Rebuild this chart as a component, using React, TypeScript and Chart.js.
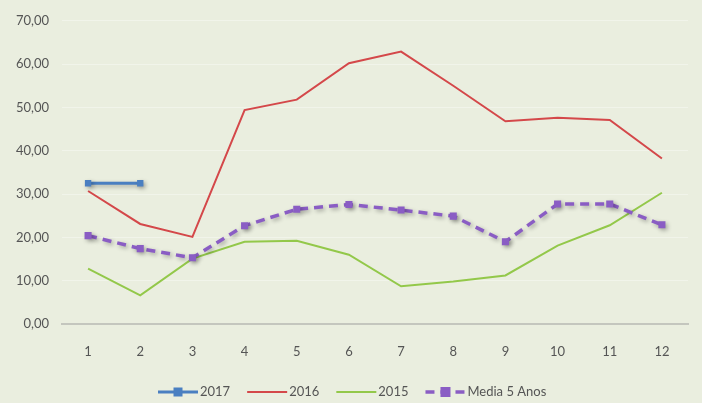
import React, { useEffect, useRef } from "react";
import { Chart, registerables } from "chart.js";

Chart.register(...registerables);

const categories = ["1", "2", "3", "4", "5", "6", "7", "8", "9", "10", "11", "12"];
const series2017 = [32.5, 32.5, null, null, null, null, null, null, null, null, null, null];
const series2016 = [30.7, 23.1, 20.1, 49.4, 51.8, 60.2, 62.9, 55.0, 46.8, 47.6, 47.1, 38.2];
const series2015 = [12.8, 6.6, 15.1, 19.0, 19.2, 16.0, 8.7, 9.8, 11.2, 18.1, 22.8, 30.3];
const seriesMedia = [20.4, 17.4, 15.3, 22.7, 26.5, 27.6, 26.3, 24.9, 19.0, 27.7, 27.7, 22.9];
const yTicks = [0, 10, 20, 30, 40, 50, 60, 70];

const BG = "#EAEEDF";
const FONT = "Lato, 'Open Sans', sans-serif";
const TEXT = "#555555";

const shadowSets = new Set(["2017", "Media 5 Anos"]);

const bgPlugin = {
  id: "bg",
  beforeDraw(chart: any) {
    const ctx = chart.ctx;
    ctx.save();
    ctx.fillStyle = BG;
    ctx.fillRect(0, 0, chart.width, chart.height);
    ctx.restore();
  },
  beforeDatasetDraw(chart: any, args: any) {
    const ds = chart.data.datasets[args.index];
    const ctx = chart.ctx;
    ctx.save();
    if (shadowSets.has(ds.label)) {
      ctx.shadowColor = "rgba(0,0,0,0.3)";
      ctx.shadowBlur = 4;
      ctx.shadowOffsetX = 2;
      ctx.shadowOffsetY = 2;
    }
  },
  afterDatasetDraw(chart: any) {
    chart.ctx.restore();
  },
};

const legendPlugin = {
  id: "customLegend",
  afterDraw(chart: any) {
    const ctx = chart.ctx;
    ctx.save();
    ctx.font = `13px ${FONT}`;
    ctx.textBaseline = "middle";
    ctx.textAlign = "left";
    const y = 392;
    let x = 158;
    const items = chart.data.datasets;
    for (const ds of items) {
      const w = 40;
      ctx.strokeStyle = ds.borderColor;
      ctx.lineWidth = ds.borderWidth;
      ctx.setLineDash(ds.borderDash || []);
      ctx.beginPath();
      ctx.moveTo(x, y);
      ctx.lineTo(x + w, y);
      ctx.stroke();
      ctx.setLineDash([]);
      if (ds.pointRadius > 0) {
        const r = ds.pointRadius;
        ctx.fillStyle = ds.backgroundColor;
        ctx.fillRect(x + w / 2 - r, y - r, r * 2, r * 2);
      }
      ctx.fillStyle = TEXT;
      ctx.fillText(ds.label, x + w + 2, y);
      x += w + 2 + ctx.measureText(ds.label).width + 17;
    }
    ctx.restore();
  },
};

export default function App() {
  const ref = useRef<HTMLCanvasElement | null>(null);
  useEffect(() => {
    document.body.style.margin = "0";
    if (!ref.current) return;
    const chart = new Chart(ref.current, {
      type: "line",
      data: {
        labels: categories,
        datasets: [
          {
            label: "2017",
            data: series2017,
            borderColor: "#4A7FC1",
            backgroundColor: "#4A7FC1",
            borderWidth: 3,
            pointStyle: "rect",
            pointRadius: 4.5,
            pointHoverRadius: 4.5,
            pointBorderWidth: 0,
            tension: 0,
            order: 0,
          },
          {
            label: "2016",
            data: series2016,
            borderColor: "#D4484A",
            backgroundColor: "#D4484A",
            borderWidth: 2,
            pointRadius: 0,
            tension: 0,
            order: 2,
          },
          {
            label: "2015",
            data: series2015,
            borderColor: "#93C84A",
            backgroundColor: "#93C84A",
            borderWidth: 2,
            pointRadius: 0,
            tension: 0,
            order: 3,
          },
          {
            label: "Media 5 Anos",
            data: seriesMedia,
            borderColor: "#8A5DC4",
            backgroundColor: "#8A5DC4",
            borderWidth: 3.5,
            borderDash: [9, 6],
            pointStyle: "rect",
            pointRadius: 5,
            pointHoverRadius: 5,
            pointBorderWidth: 0,
            tension: 0,
            order: 1,
          },
        ],
      },
      options: {
        responsive: false,
        animation: false,
        spanGaps: false,
        layout: { padding: { top: 18, right: 14, bottom: 0, left: 0 } },
        plugins: {
          legend: { display: false },
          tooltip: { enabled: false },
        },
        scales: {
          x: {
            offset: true,
            grid: { display: false, drawTicks: false },
            border: { display: true, color: "#C4C6BE", width: 2 },
            ticks: {
              padding: 20,
              color: TEXT,
              font: { family: FONT, size: 13 },
              maxRotation: 0,
            },
            afterFit(scale: any) {
              scale.height = 79;
            },
          },
          y: {
            min: 0,
            max: 70,
            afterBuildTicks(scale: any) {
              scale.ticks = yTicks.map((v) => ({ value: v }));
            },
            grid: { color: "rgba(255,255,255,0.35)", lineWidth: 1, drawTicks: false },
            border: { display: false },
            ticks: {
              padding: 13,
              color: TEXT,
              font: { family: FONT, size: 13 },
              callback: (v: any) => Number(v).toFixed(2).replace(".", ","),
            },
            afterFit(scale: any) {
              scale.width = 62;
            },
          },
        },
      },
      plugins: [bgPlugin, legendPlugin],
    });
    return () => chart.destroy();
  }, []);
  return (
    <div style={{ width: 702, height: 403 }}>
      <canvas ref={ref} width={702} height={403} style={{ display: "block" }} />
    </div>
  );
}
